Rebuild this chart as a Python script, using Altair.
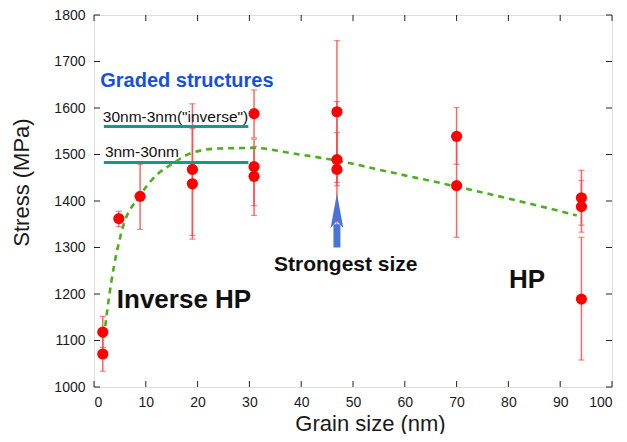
import altair as alt
import pandas as pd

# ---- data ----
pt_x = [1.7, 1.7, 4.8, 8.9, 19.0, 19.0, 30.9, 30.9, 30.9, 46.9, 46.9, 46.9, 70.0, 70.0, 94.1, 94.1, 94.1]
pt_y = [1118, 1071, 1362, 1410, 1468, 1437, 1588, 1474, 1453, 1592, 1489, 1468, 1539, 1433, 1407, 1388, 1189]
err_lo = [1085, 1034, 1345, 1339, 1326, 1318, 1536, 1390, 1369, 1440, 1433, 1324, 1479, 1322, 1348, 1333, 1058]
err_hi = [1152, 1108, 1378, 1479, 1609, 1556, 1639, 1517, 1533, 1745, 1614, 1547, 1601, 1545, 1466, 1444, 1322]

fit_x = [1.9, 3.3, 5.4, 8.9, 12.0, 15.1, 19.0, 24.2, 30.9, 38.0, 46.8, 58.0, 70.0, 82.0, 93.2]
fit_y = [1107, 1223, 1337, 1412, 1455, 1480, 1504, 1513, 1514, 1503, 1487, 1460, 1431, 1400, 1369]

graded_labels = ['30nm-3nm("inverse")', '3nm-30nm']
graded_y = [1560, 1483]
graded_x0 = [1.9, 1.9]
graded_x1 = [29.8, 29.8]
graded_label_x = [1.7, 2.1]
graded_label_y = [1569, 1494]

arrow_x = [46.9]
arrow_y0 = [1300]
arrow_y1 = [1350]
arrow_head_y = [1378]

notes = ["Inverse HP", "HP", "Strongest size"]
notes_x = [4.4, 80.1, 48.6]
notes_y = [1170, 1212, 1249]

x_ticks = [0, 10, 20, 30, 40, 50, 60, 70, 80, 90, 100]
y_ticks = [1000, 1100, 1200, 1300, 1400, 1500, 1600, 1700, 1800]

W, H = 518, 372
FONT = "Liberation Sans"

pts = pd.DataFrame({"x": pt_x, "y": pt_y, "lo": err_lo, "hi": err_hi})
fit = pd.DataFrame({"x": fit_x, "y": fit_y})
graded = pd.DataFrame({"label": graded_labels, "y": graded_y, "x0": graded_x0,
                       "x1": graded_x1, "lx": graded_label_x, "ly": graded_label_y})
arrow = pd.DataFrame({"x": arrow_x, "y0": arrow_y0, "y1": arrow_y1, "hy": arrow_head_y})
notes_df = pd.DataFrame({"t": notes, "x": notes_x, "y": notes_y})
xt = pd.DataFrame({"v": x_ticks})
yt = pd.DataFrame({"v": y_ticks})

xs = alt.Scale(domain=[0, 100], nice=False)
ys = alt.Scale(domain=[1000, 1800], nice=False)

xax = alt.Axis(values=x_ticks, format="d", ticks=False, domain=False, grid=False,
               labelFontSize=14, labelPadding=8, titleFontSize=22, labelFont=FONT,
               titleFont=FONT, titleFontWeight="normal", labelColor="#1a1a1a",
               titleColor="#1a1a1a", titleX=276, titleY=43, titleBaseline="alphabetic")
yax = alt.Axis(values=y_ticks, format="d", ticks=False, domain=False, grid=False,
               labelFontSize=14, labelPadding=9, titleFontSize=22, labelFont=FONT,
               titleFont=FONT, titleFontWeight="normal", labelColor="#1a1a1a",
               titleColor="#1a1a1a", titleX=-61, titleY=167)

base = alt.Chart(pts)

bars = base.mark_rule(color="#ff4a4a", strokeWidth=1.5, opacity=0.85).encode(
    x=alt.X("x:Q", scale=xs, axis=xax, title="Grain size (nm)"),
    y=alt.Y("lo:Q", scale=ys, axis=yax, title="Stress (MPa)"),
    y2="hi:Q",
)
cap_lo = base.mark_tick(color="#ff4a4a", orient="horizontal", size=6, thickness=1.2).encode(
    x="x:Q", y="lo:Q")
cap_hi = base.mark_tick(color="#ff4a4a", orient="horizontal", size=6, thickness=1.2).encode(
    x="x:Q", y="hi:Q")

fit_line = alt.Chart(fit).mark_line(color="#4fae1e", strokeWidth=2.6, strokeDash=[6, 5],
                                    interpolate="monotone").encode(x="x:Q", y="y:Q")

dots = base.mark_circle(color="#ff0000", size=125, opacity=1).encode(x="x:Q", y="y:Q")

g_lines = alt.Chart(graded).mark_rule(color="#14998a", strokeWidth=3).encode(
    x="x0:Q", x2="x1:Q", y="y:Q")
g_text = alt.Chart(graded).mark_text(align="left", baseline="alphabetic", fontSize=15.5,
                                     font=FONT, color="#111").encode(
    x="lx:Q", y="ly:Q", text="label:N")

title_txt = alt.Chart(pd.DataFrame({"t": ["Graded structures"], "x": [1.2], "y": [1646]})).mark_text(
    align="left", baseline="alphabetic", fontSize=20, fontWeight="bold", font=FONT,
    color="#1650e0").encode(x="x:Q", y="y:Q", text="t:N")

shaft = alt.Chart(arrow).mark_rule(color="#4a74d8", strokeWidth=7).encode(
    x="x:Q", y="y0:Q", y2="y1:Q")
head = alt.Chart(arrow).mark_point(
    shape="M0,-1 L0.36,0.95 L0,0.55 L-0.36,0.95 Z", size=1250, filled=True,
    color="#4a74d8", opacity=1).encode(x="x:Q", y="hy:Q")

note_big = alt.Chart(notes_df.iloc[:2]).mark_text(
    align="left", baseline="alphabetic", fontSize=26, fontWeight="bold", font=FONT,
    color="#111").encode(x="x:Q", y="y:Q", text="t:N")
note_mid = alt.Chart(notes_df.iloc[2:]).mark_text(
    align="center", baseline="alphabetic", fontSize=21, fontWeight="bold", font=FONT,
    color="#111").encode(x="x:Q", y="y:Q", text="t:N")

tick_col = "#222"
tl = alt.Chart(yt).mark_rule(color=tick_col, strokeWidth=1).encode(
    y="v:Q", x=alt.value(0), x2=alt.value(6))
tr = alt.Chart(yt).mark_rule(color=tick_col, strokeWidth=1).encode(
    y="v:Q", x=alt.value(W), x2=alt.value(W - 6))
tb = alt.Chart(xt).mark_rule(color=tick_col, strokeWidth=1).encode(
    x="v:Q", y=alt.value(H), y2=alt.value(H - 6))
ttop = alt.Chart(xt).mark_rule(color=tick_col, strokeWidth=1).encode(
    x="v:Q", y=alt.value(0), y2=alt.value(6))

chart = alt.layer(
    bars, cap_lo, cap_hi, g_lines, g_text, title_txt, fit_line, dots,
    shaft, head, note_big, note_mid, tl, tr, tb, ttop
).properties(
    width=W, height=H,
    autosize=alt.AutoSizeParams(type="none"),
    padding={"left": 86, "top": 7, "right": 7, "bottom": 47},
).configure_view(stroke="#111", strokeWidth=1.6).configure(background="white")

chart.save("out.html", embed_options={"renderer": "svg", "actions": False})
